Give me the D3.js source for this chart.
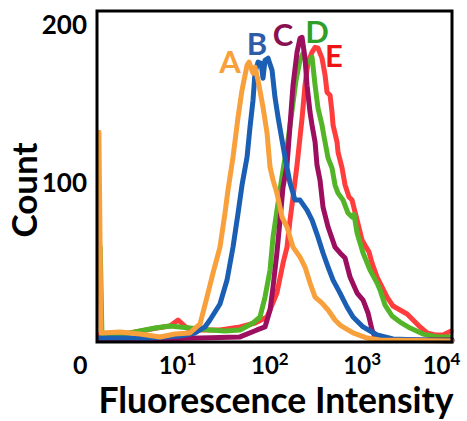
<!DOCTYPE html>
<html><head><meta charset="utf-8">
<script src="https://cdn.jsdelivr.net/npm/d3@7"></script>
<style>body{margin:0;background:#fff}svg{display:block}text{font-family:Lato,"Open Sans",sans-serif;font-weight:bold}</style>
</head><body><svg id="c" width="467" height="421"></svg>
<script>
// ---- data (intensity, count) ----
const seriesNames = ["A","B","C","D","E"];
const seriesColors = ["#f7a03c","#1a5fb4","#9c0f5f","#52b426","#ff3d3d"];
const labelColors = ["#f7a03c","#2f5ca8","#8a1050","#2ea02a","#ee1414"];
const labelX = [39.5, 77, 148, 345, 527];
const labelY = [170, 181, 187, 189, 173.5];

const dataA = [[1.5,132.5],[1.58,5.7],[2.54,6.3],[4.18,5.0],[6.88,3.2],[10,5.0],[14.5,5.7],[18.7,11.4],[22.2,28.4],[25.8,43.5],[30.7,59.9],[34.8,81.4],[37.5,95.9],[42.5,116.7],[48.2,142],[53.2,159],[60.3,174.8],[63.4,176.7],[70,169.7],[73.6,173.5],[79.3,165.3],[89.8,148.3],[99.3,131.9],[107,110.4],[115.3,102.2],[127,94],[144.3,78.9],[163.4,72.6],[189.8,59.9],[226,53.6],[256,47.3],[290,37.2],[329,28.4],[391,24.6],[455,20.2],[541,13.9],[613,10.7],[848,5.7],[1203,2.5],[1664,1.3],[10000,0.6]];
const dataB = [[1.54,2.5],[5.36,2.5],[11.3,3.8],[16.5,5.7],[21.1,9.5],[23.9,13.9],[30.7,24.0],[36.6,39.1],[42.5,59.9],[48.2,81.4],[53.2,99.1],[60.3,116.7],[64.9,135.6],[70,152.7],[73.6,170.3],[79.3,176.7],[85.5,176],[89.8,166.6],[94.4,177.9],[101.8,179.2],[112.5,171.6],[121,154.6],[130.6,142],[144.3,127.4],[155.5,116.7],[176.2,100.3],[199.5,89.6],[226,89.6],[269,83.3],[305,77],[354,66.2],[401,56.2],[455,47.3],[515,39.1],[613,30.9],[730,22.1],[848,15.8],[1089,9.5],[1544,4.4],[2299,1.9],[4510,1.3],[10000,0.6]];
const dataC = [[1.54,1.3],[18.7,2.5],[50.6,3.2],[77.3,7.6],[94.4,9.5],[107,20.2],[115.3,34.7],[127,56.2],[137.3,77],[147.9,97.8],[163.4,111.7],[176.2,136.9],[189.8,162.1],[209.7,183],[226,191.8],[237.7,192.4],[256,179.2],[269,162.1],[290,145.1],[305,136.9],[329,126.2],[345,111.7],[372,102.2],[401,85.2],[455,72.6],[541,59.9],[613,56.2],[695,53],[787,41],[938,30.9],[1089,26.5],[1233,18.3],[1362,7.6],[1468,3.2],[1664,1.3],[10000,1.3]];
const dataD = [[1.55,59.9],[1.62,3.2],[2.24,3.8],[3.69,6.3],[6.07,8.8],[8.83,10.1],[14.5,8.8],[23.9,7.6],[34.8,6.9],[50.6,7.6],[70,12],[83.4,15.8],[94.4,28.4],[107,45.4],[115.3,66.2],[130.6,87.7],[147.9,108.5],[167.5,127.4],[185.2,146.4],[204.6,165.3],[226,177.9],[243.7,182.3],[262.5,177.9],[283,176.7],[305,179.8],[329,162.1],[354,147.6],[391,136.9],[422,126.2],[455,116.1],[502,109.8],[541,99.1],[583,94],[661,89.6],[748,81.4],[827,78.9],[870,80.5],[938,68.8],[1089,56.2],[1296,45.4],[1544,37.2],[1664,32.8],[1884,23.3],[2243,16.4],[2740,12.6],[3518,8.8],[4863,5],[6898,3.2],[9532,3.2]];
const dataE = [[1.54,5],[3.25,5.7],[6.38,8.8],[8.83,10.1],[10.8,13.9],[13.5,8.8],[18.7,7.6],[30.7,7.6],[50.6,9.5],[73.6,12],[99.3,15.8],[127,30.9],[147.9,49.8],[163.4,59.9],[176.2,77],[189.8,91.5],[209.7,111.7],[237.7,141.3],[256,162.1],[276,176.7],[305,183],[329,186.1],[354,185.5],[391,179.2],[422,168.5],[443,157.7],[478,155.8],[502,145.1],[515,136.9],[569,126.2],[583,119.9],[645,109.8],[695,99.1],[767,91.5],[827,89.6],[938,77],[1062,64.4],[1173,59.9],[1264,56.8],[1362,49.8],[1544,41],[1749,34.7],[1981,28.4],[2299,22.7],[2740,20.2],[3265,17.7],[3793,13.9],[4510,9.5],[5372,5.7],[6559,4.4],[8018,4.4],[8856,5.7],[9776,6.9]];
const allData = [dataA, dataB, dataC, dataD, dataE];

const xTicks = [1, 10, 100, 1000, 10000];
const xTickBase = ["0","10","10","10","10"];
const xTickExp = ["","1","2","3","4"];
const yTicks = [100, 200];
const xTitle = "Fluorescence Intensity";
const yTitle = "Count";

// ---- layout ----
const svg = d3.select("#c");
const L = 97, R = 452, T = 11, B = 342;
const x = d3.scaleLog().domain([1.43, 10000]).range([L, R]);
const y = d3.scaleLinear().domain([0, 209]).range([B, T]);

const line = d3.line().x(d => x(d[0])).y(d => y(d[1])).curve(d3.curveLinear);

// draw order: E, D, C, B, A
const order = [4, 3, 2, 1, 0];
const plot = svg.append("g");
order.forEach(i => {
  plot.append("path").datum(allData[i])
    .attr("fill", "none").attr("stroke", seriesColors[i])
    .attr("stroke-width", 5).attr("stroke-linejoin", "round").attr("stroke-linecap", "round")
    .attr("d", line);
});

// frame
svg.append("rect").attr("x", L).attr("y", T).attr("width", R - L).attr("height", B - T)
  .attr("fill", "none").attr("stroke", "#000").attr("stroke-width", 3);

// y axis
const ya = svg.append("g").attr("transform", `translate(${L},0)`)
  .call(d3.axisLeft(y).tickValues(yTicks).tickSize(0).tickPadding(10));
ya.select(".domain").remove();
ya.selectAll("text").attr("font-size", 26).attr("fill", "#000")
  .style("font-family", "Lato, sans-serif").style("font-weight", "bold");

// x axis
const xa = svg.append("g").attr("transform", `translate(0,${B})`)
  .call(d3.axisBottom(x).tickValues(xTicks).tickSize(0).tickFormat(""));
xa.select(".domain").remove();
xa.selectAll(".tick text").each(function(d, i) {
  const t = d3.select(this).attr("y", 32).attr("dy", 0).attr("fill", "#000")
    .style("font-family", "Lato, sans-serif").style("font-weight", "bold").text(null);
  t.append("tspan").attr("font-size", i === 0 ? 25 : 24).text(xTickBase[i]);
  if (xTickExp[i]) t.append("tspan").attr("font-size", 17).attr("dy", -9).text(xTickExp[i]);
  if (i === 0) t.attr("dx", -3);
  if (i === xTicks.length - 1) t.attr("dx", -11);
  else if (i > 0) t.attr("dx", 2);
});

// titles
svg.append("text").attr("x", 276).attr("y", 413).attr("text-anchor", "middle")
  .attr("font-size", 35.5).attr("fill", "#000").text(xTitle);
svg.append("text").attr("transform", "translate(37,190) rotate(-90)").attr("text-anchor", "middle")
  .attr("font-size", 35).attr("fill", "#000").text(yTitle);

// curve labels
seriesNames.forEach((n, i) => {
  svg.append("text").attr("x", x(labelX[i])).attr("y", y(labelY[i]))
    .attr("text-anchor", "middle").attr("font-size", 31)
    .attr("fill", labelColors[i]).text(n);
});
</script></body></html>
